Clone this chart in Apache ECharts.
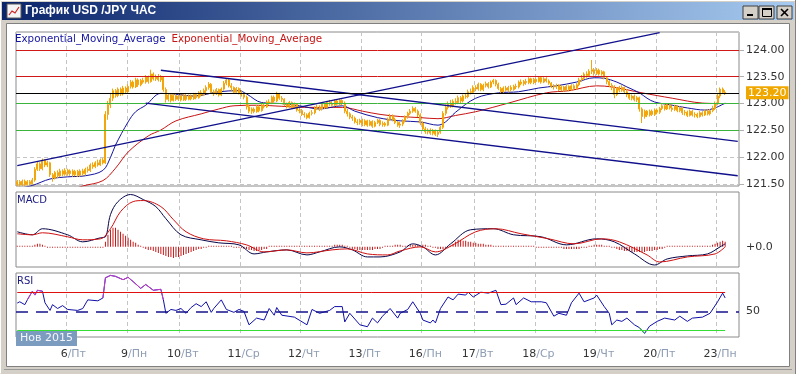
<!DOCTYPE html>
<html><head><meta charset="utf-8">
<script src="https://cdn.jsdelivr.net/npm/echarts@6/dist/echarts.min.js"></script>
<style>html,body{margin:0;padding:0;background:#d4d0c8;overflow:hidden}#c{width:796px;height:374px}</style>
</head><body><div id="c"></div>
<script>
// ---------- time axis (hourly slots) ----------
const days = [5, 6, 9, 10, 11, 12, 13, 16, 17, 18, 19, 20, 23];
const dayNames = ['Чт', 'Пт', 'Пн', 'Вт', 'Ср', 'Чт', 'Пт', 'Пн', 'Вт', 'Ср', 'Чт', 'Пт', 'Пн'];
const slotsPerDay = [20, 24, 21, 24, 24, 24, 24, 21, 24, 24, 24, 24, 9];
const firstHour = [4, 0, 3, 0, 0, 0, 0, 3, 0, 0, 0, 0, 3];
const monthLabel = 'Нов 2015';
const chartTitle = 'График USD /JPY ЧАС';
const emaLabel = 'Exponential_Moving_Average';

// ---------- price (hourly) ----------
const firstOpen = 121.50;
const closes = [
121.55,121.49,121.56,121.50,121.55,121.51,121.58,121.78,121.88,121.79,121.95,121.86,121.90,121.68,121.62,121.72,121.66,121.75,121.69,121.76,
121.70,121.75,121.68,121.74,121.67,121.75,121.70,121.78,121.76,121.86,121.83,121.90,121.86,121.95,121.90,122.80,122.98,123.10,123.24,123.15,123.27,123.18,123.29,123.22,
123.32,123.40,123.31,123.44,123.35,123.43,123.40,123.50,123.41,123.55,123.46,123.50,123.44,123.49,123.26,123.08,123.16,123.06,123.15,123.08,123.14,
123.07,123.15,123.08,123.14,123.09,123.17,123.11,123.20,123.16,123.24,123.30,123.36,123.22,123.18,123.26,123.16,123.27,123.38,123.44,123.33,123.30,123.21,123.28,123.20,
123.17,123.12,122.94,122.86,122.90,122.85,122.94,122.87,122.97,122.94,123.03,123.01,123.12,123.05,123.18,123.10,123.08,122.98,122.95,123.02,122.93,122.99,122.88,122.87,
122.80,122.79,122.74,122.82,122.83,122.92,122.93,122.90,122.99,122.93,123.02,123.00,122.97,123.05,122.99,123.06,123.01,122.86,122.81,122.75,122.73,122.66,122.65,122.69,
122.61,122.68,122.60,122.67,122.58,122.65,122.69,122.61,122.63,122.60,122.71,122.77,122.70,122.65,122.60,122.62,122.68,122.75,122.82,122.86,122.91,122.86,122.79,122.64,
122.53,122.48,122.51,122.45,122.50,122.43,122.47,122.56,122.82,122.93,123.00,122.96,123.04,123.02,123.11,123.05,123.14,123.13,123.22,123.21,123.30,
123.27,123.36,123.26,123.34,123.37,123.31,123.40,123.43,123.36,123.28,123.22,123.29,123.25,123.30,123.26,123.32,123.31,123.40,123.37,123.41,123.39,123.46,123.39,123.45,
123.41,123.48,123.40,123.46,123.42,123.38,123.32,123.31,123.34,123.26,123.31,123.25,123.32,123.26,123.33,123.28,123.35,123.44,123.47,123.55,123.52,123.60,123.63,123.56,
123.62,123.55,123.59,123.48,123.41,123.34,123.31,123.17,123.28,123.25,123.30,123.22,123.17,123.10,123.14,123.07,123.11,122.90,122.76,122.86,122.79,122.86,122.80,122.88,
122.84,122.91,122.96,122.90,122.98,122.92,122.89,122.95,122.87,122.92,122.83,122.84,122.78,122.86,122.79,122.80,122.76,122.83,122.79,122.86,122.81,122.87,122.91,123.00,
123.14,123.27,123.21,123.20];
const highs = [
121.58,121.58,121.59,121.59,121.58,121.58,121.62,121.82,121.93,121.91,121.98,121.97,121.94,121.92,121.71,121.75,121.76,121.79,121.78,121.80,
121.79,121.78,121.78,121.77,121.77,121.78,121.79,121.81,121.83,121.89,121.91,121.93,121.96,121.98,121.99,122.86,123.05,123.20,123.28,123.27,123.30,123.30,123.33,123.32,
123.36,123.44,123.43,123.48,123.47,123.46,123.48,123.53,123.52,123.63,123.58,123.54,123.55,123.53,123.51,123.30,123.19,123.18,123.19,123.18,123.17,
123.17,123.18,123.18,123.17,123.17,123.20,123.20,123.23,123.25,123.28,123.34,123.40,123.38,123.26,123.29,123.28,123.30,123.42,123.47,123.46,123.38,123.32,123.31,123.30,
123.25,123.20,123.15,122.98,122.93,122.93,122.97,122.97,123.00,123.02,123.06,123.08,123.15,123.15,123.22,123.20,123.14,123.10,123.02,123.05,123.04,123.02,123.01,122.92,
122.90,122.84,122.82,122.85,122.88,122.95,122.98,122.97,123.02,123.01,123.05,123.07,123.04,123.08,123.07,123.09,123.08,123.04,122.90,122.84,122.79,122.76,122.71,122.72,
122.72,122.71,122.70,122.70,122.69,122.68,122.72,122.71,122.67,122.66,122.74,122.81,122.80,122.74,122.68,122.66,122.71,122.78,122.85,122.90,122.95,122.94,122.89,122.82,
122.67,122.57,122.54,122.54,122.53,122.52,122.50,122.59,122.86,122.98,123.04,123.07,123.08,123.10,123.15,123.14,123.17,123.19,123.26,123.28,123.34,
123.34,123.39,123.38,123.37,123.41,123.40,123.43,123.46,123.45,123.39,123.31,123.32,123.33,123.33,123.34,123.35,123.37,123.43,123.45,123.44,123.46,123.49,123.48,123.48,
123.48,123.51,123.50,123.49,123.49,123.45,123.40,123.36,123.37,123.36,123.34,123.33,123.35,123.34,123.36,123.36,123.38,123.48,123.53,123.58,123.60,123.64,123.81,123.66,
123.66,123.65,123.62,123.61,123.51,123.44,123.38,123.34,123.31,123.33,123.34,123.32,123.27,123.20,123.17,123.17,123.14,123.13,122.93,122.89,122.88,122.89,122.89,122.91,
122.91,122.94,122.99,122.99,123.01,123.00,122.96,122.98,122.97,122.95,122.94,122.88,122.87,122.89,122.88,122.84,122.83,122.86,122.86,122.89,122.89,122.90,122.96,123.04,
123.18,123.30,123.30,123.25];
const lows = [
121.47,121.46,121.47,121.47,121.48,121.48,121.49,121.55,121.75,121.75,121.76,121.82,121.82,121.64,121.55,121.59,121.62,121.63,121.65,121.66,
121.66,121.66,121.64,121.65,121.64,121.64,121.66,121.67,121.72,121.73,121.79,121.80,121.83,121.84,121.87,121.88,122.70,122.92,123.05,123.11,123.12,123.14,123.15,123.18,
123.19,123.28,123.28,123.29,123.31,123.32,123.37,123.37,123.37,123.39,123.43,123.42,123.41,123.40,123.22,123.02,123.04,123.02,123.04,123.05,123.05,
123.04,123.05,123.05,123.06,123.06,123.07,123.08,123.09,123.13,123.14,123.20,123.26,123.19,123.14,123.16,123.13,123.14,123.24,123.34,123.30,123.24,123.18,123.19,123.17,
123.13,123.08,122.89,122.82,122.81,122.82,122.83,122.84,122.85,122.91,122.92,122.98,122.99,123.02,123.03,123.07,123.03,122.95,122.91,122.92,122.90,122.90,122.85,122.82,
122.77,122.74,122.71,122.72,122.78,122.80,122.88,122.86,122.87,122.90,122.91,122.96,122.94,122.95,122.96,122.97,122.97,122.82,122.76,122.71,122.68,122.63,122.60,122.61,
122.58,122.58,122.57,122.58,122.55,122.56,122.62,122.58,122.57,122.57,122.58,122.68,122.67,122.62,122.57,122.55,122.58,122.65,122.72,122.79,122.83,122.83,122.75,122.60,
122.49,122.44,122.43,122.42,122.41,122.40,122.38,122.44,122.53,122.78,122.89,122.92,122.93,122.98,122.99,123.01,123.02,123.09,123.10,123.17,123.18,
123.23,123.24,123.23,123.23,123.30,123.28,123.29,123.36,123.32,123.25,123.19,123.20,123.22,123.21,123.23,123.24,123.27,123.28,123.34,123.33,123.35,123.36,123.36,123.36,
123.38,123.39,123.37,123.38,123.39,123.35,123.29,123.26,123.27,123.23,123.23,123.22,123.23,123.23,123.24,123.25,123.26,123.32,123.40,123.44,123.48,123.49,123.55,123.52,
123.53,123.52,123.52,123.45,123.36,123.31,123.25,123.10,123.14,123.21,123.22,123.19,123.12,123.07,123.06,123.04,123.03,122.85,122.64,122.72,122.75,122.76,122.77,122.77,
122.80,122.81,122.88,122.87,122.88,122.89,122.85,122.86,122.84,122.84,122.79,122.78,122.75,122.76,122.76,122.74,122.73,122.74,122.76,122.77,122.78,122.78,122.84,122.88,
122.97,123.10,123.18,123.16];

// moving averages [slot, price]
const emaFast = [[0,121.42],[6,121.48],[13,121.60],[20,121.64],[27,121.66],[34,121.76],[37,122.00],[39,122.23],[44,122.66],[47,122.85],[51,122.97],[57,123.19],[62,123.18],[70,123.14],[80,123.22],[88,123.24],[91,123.18],[97,123.02],[105,123.00],[112,122.96],[120,122.90],[129,122.96],[134,122.86],[143,122.74],[152,122.68],[160,122.66],[167,122.60],[170,122.66],[174,122.84],[182,123.10],[191,123.20],[199,123.22],[207,123.29],[214,123.33],[222,123.40],[229,123.48],[233,123.47],[238,123.40],[242,123.31],[247,123.20],[250,123.10],[253,123.03],[260,122.97],[266,122.92],[273,122.88],[277,122.92],[281,123.01]];
const emaSlow = [[0,121.20],[20,121.38],[26,121.47],[34,121.57],[39,121.80],[44,122.10],[52,122.40],[57,122.51],[63,122.68],[73,122.81],[80,122.90],[86,122.96],[95,122.97],[105,122.95],[114,122.93],[122,122.93],[129,122.93],[137,122.86],[144,122.80],[152,122.76],[160,122.74],[167,122.72],[174,122.78],[182,122.85],[195,123.01],[210,123.20],[219,123.24],[230,123.33],[236,123.31],[248,123.20],[260,123.10],[272,123.01],[281,123.00]];

// levels and trend lines
const redLevels = [124.0, 123.5];
const greenLevels = [123.0, 122.5];
const lastPrice = 123.20;
const trendLines = [
  [[0, 121.85], [255, 124.32]],
  [[57, 123.62], [286, 122.30]],
  [[51, 123.01], [286, 121.66]]
];

// ---------- MACD ----------
const macdLine = [[0,0.15],[6,0.12],[10,0.18],[20,0.12],[26,0.05],[33,0.09],[35,0.10],[37,0.32],[40,0.45],[45,0.52],[50,0.47],[55,0.40],[59,0.28],[65,0.12],[73,0.07],[80,0.04],[88,0.02],[94,-0.07],[99,-0.05],[107,-0.03],[115,-0.08],[120,-0.05],[128,0.00],[133,-0.03],[139,-0.10],[144,-0.10],[152,-0.05],[157,0.03],[161,0.00],[166,-0.08],[172,0.03],[180,0.17],[189,0.18],[197,0.12],[208,0.10],[218,0.02],[230,0.08],[237,0.05],[245,-0.07],[253,-0.18],[258,-0.12],[266,-0.09],[274,-0.07],[279,0.00],[281,0.03]];
const macdSignal = [[0,0.13],[6,0.12],[10,0.14],[20,0.10],[26,0.07],[33,0.08],[37,0.18],[41,0.35],[46,0.45],[50,0.46],[57,0.40],[62,0.27],[67,0.15],[74,0.08],[83,0.06],[91,0.02],[98,-0.05],[107,-0.03],[115,-0.06],[125,-0.03],[131,-0.02],[139,-0.07],[147,-0.08],[152,-0.04],[160,0.00],[166,-0.05],[173,0.02],[182,0.15],[190,0.18],[200,0.13],[211,0.08],[221,0.03],[232,0.08],[239,0.05],[250,-0.08],[255,-0.15],[266,-0.10],[277,-0.07],[281,0.00]];
const macdHist = [
0.01,0.01,0.01,0.01,0.01,0.01,0.01,0.02,0.03,0.03,0.02,0.01,
-0.01,-0.01,-0.01,-0.01,-0.01,-0.01,-0.01,-0.01,-0.01,-0.01,-0.01,-0.01,-0.01,-0.01,-0.01,-0.01,-0.01,-0.01,-0.01,-0.01,-0.01,-0.01,-0.01,
0.05,0.12,0.17,0.19,0.19,0.17,0.15,0.13,0.11,0.09,0.07,0.05,0.04,0.02,0.01,
-0.01,-0.02,-0.03,-0.03,-0.04,-0.05,-0.06,-0.07,-0.08,-0.09,-0.10,-0.10,-0.11,-0.10,-0.10,-0.09,-0.08,-0.07,-0.06,-0.05,-0.04,-0.03,-0.02,-0.02,
-0.01,-0.01,0.01,0.01,0.01,0.01,0.01,0.01,0.01,0.01,0.01,0.01,-0.01,-0.01,-0.01,-0.01,-0.02,-0.02,
-0.03,-0.03,-0.04,-0.04,-0.03,-0.03,-0.02,-0.02,
0.01,0.01,0.01,0.01,0.01,0.01,0.01,0.01,0.01,0.01,0.01,0.01,0.01,0.01,0.01,0.01,0.01,0.01,0.01,0.01,0.01,0.01,0.01,0.01,0.01,0.01,0.02,0.02,0.02,0.02,0.01,0.01,-0.01,
-0.02,-0.02,-0.03,-0.03,-0.03,-0.03,-0.03,-0.03,-0.03,-0.02,-0.02,-0.02,-0.01,
0.01,0.01,0.01,0.01,0.02,0.02,0.02,0.01,0.01,0.01,0.02,0.02,0.02,0.02,0.01,
0.02,0.02,0.01,0.01,-0.01,-0.01,
-0.02,-0.02,-0.02,-0.01,-0.01,0.01,0.03,
0.05,0.07,0.07,0.06,0.06,0.05,0.05,0.04,0.04,0.03,0.03,0.03,0.02,0.02,0.02,
0.01,0.01,0.01,0.01,0.01,0.01,0.01,0.01,0.01,0.01,0.01,0.01,0.01,0.01,0.01,0.01,0.01,
-0.01,-0.01,-0.01,-0.01,-0.01,-0.01,-0.01,-0.01,-0.01,-0.01,
-0.01,-0.02,-0.02,-0.02,-0.02,-0.02,-0.02,-0.02,-0.01,-0.01,-0.01,
0.01,0.01,0.02,0.02,0.02,0.02,0.01,0.01,0.01,-0.01,
-0.01,-0.02,-0.03,-0.03,-0.04,-0.04,-0.04,-0.05,-0.05,-0.05,-0.05,-0.05,-0.05,-0.04,-0.04,-0.04,-0.03,-0.03,-0.02,-0.02,-0.01,
0.01,0.01,0.01,0.01,0.01,0.01,0.01,0.01,0.01,0.01,0.01,0.01,0.01,0.01,0.01,0.01,0.01,0.01,
0.02,0.03,0.04,0.05,0.06,0.05];

// ---------- RSI ----------
const rsiPoints = [[0,58.7],[1,60],[3,57],[4,62],[6,71],[7,67],[8,72],[10,71],[11,59],[13,51],[14,57],[16,53],[18,56],[20,52],[24,51],[26,53],[28,62],[32,61],[34,64],[35,85],[37,87.5],[39,86.5],[42,83],[44,85.5],[46,81],[49,74],[51,78],[54,72],[57,73],[58,62],[59,48],[61,52],[63,51],[65,53],[67,48],[69,54],[71,58],[73,55],[75,60],[77,49],[78,53],[81,62],[83,52],[86,49],[88,52],[90,50],[92,36],[95,43],[98,41],[100,53],[102,46],[103,54],[105,46],[110,44],[115,36],[117,52],[120,48],[124,51],[126,55],[129,55],[130,39],[132,48],[136,36],[139,34],[141,43],[143,38],[145,45],[148,53],[151,43],[152,48],[155,52],[157,60],[160,48],[161,41],[164,38],[165,41],[166,38],[168,53],[171,65],[173,62],[175,68],[178,67],[179,70],[181,65],[184,70],[187,69],[190,72],[192,57],[194,57.5],[197,64],[198,57],[201,64],[204,60],[208,60],[210,59],[213,45],[215,48],[218,46],[220,59],[223,69],[225,60],[229,64],[230,67],[233,55],[235,48],[236,36],[238,41],[240,39.6],[242,43],[245,36],[247,33],[249,27],[251,34.6],[254,39.6],[257,43],[261,41],[263,45],[266,39.6],[268,43],[272,44],[275,48],[278,60],[280,69],[281,64]];
const rsiHotRanges = [[4, 10], [34, 58]];
const rsiLowRanges = [[247, 249]];
const rsiUpper = 70, rsiMid = 50, rsiLower = 30;

// ---------- build ----------
const categories = [];
const dayStarts = new Set();
days.forEach((d, k) => {
  for (let h = 0; h < slotsPerDay[k]; h++) {
    if (h === 0 && k > 0) dayStarts.add(categories.length);
    categories.push(d + '|' + dayNames[k] + '|' + (firstHour[k] + h));
  }
});
const candles = closes.map((c, i) => [i === 0 ? firstOpen : closes[i - 1], c, lows[i], highs[i]]);
const inRanges = (s, ranges) => ranges.some(r => s >= r[0] && s <= r[1]);
const rsiHot = rsiPoints.map(p => inRanges(p[0], rsiHotRanges) ? p : [p[0], '-']);
const rsiLow = rsiPoints.map(p => inRanges(p[0], rsiLowRanges) ? p : [p[0], '-']);
const lastSlot = closes.length - 1;

const FONT = 'DejaVu Sans';
const isDayStart = (i) => dayStarts.has(i);
const gridBase = { show: true, borderColor: '#8a8a8a', borderWidth: 1, backgroundColor: '#ffffff' };
function catAxis(gridIndex, extra) {
  return Object.assign({
    type: 'category', gridIndex, data: categories, boundaryGap: true, position: 'bottom',
    axisLine: { show: false }, axisTick: { show: false }, axisLabel: { show: false },
    splitLine: { show: true, interval: isDayStart, lineStyle: { color: '#c4c4c4', width: 1, type: [4, 3] } }
  }, extra || {});
}
const C = {
  candle: '#f2a60c', blue: '#1414a0', red: '#c81414', trend: '#10108c',
  lvlRed: '#d01818', lvlGreen: '#3cb43c', macd: '#06064a', sig: '#d01010', hist: '#c41a1a',
  rsi: '#1010a8', hot: '#c83cc8', low: '#22cc22'
};
const ml = (extra) => Object.assign({ silent: true, symbol: 'none', animation: false, precision: 2, label: { show: false } }, extra);

const mainLines = [];
redLevels.forEach(v => mainLines.push({ yAxis: v, lineStyle: { color: C.lvlRed, width: 1, type: 'solid' } }));
greenLevels.forEach(v => mainLines.push({ yAxis: v, lineStyle: { color: C.lvlGreen, width: 1, type: 'solid' } }));
trendLines.forEach(t => mainLines.push([
  { coord: t[0], lineStyle: { color: C.trend, width: 1.3, type: 'solid' } },
  { coord: t[1] }
]));
mainLines.push({
  yAxis: lastPrice, lineStyle: { color: '#000', width: 1.2, type: 'solid' },
  label: { show: true, position: 'end', distance: 7, formatter: lastPrice.toFixed(2),
    backgroundColor: '#f0a800', color: '#fff', fontFamily: FONT, fontSize: 11, padding: [2, 2, 0, 2] }
});

const dayLabel = (part, prefix) => (v, i) => dayStarts.has(i) ? prefix + v.split('|')[part] : '';

const option = {
  animation: false,
  title: {
    text: '{b|' + emaLabel + '}  {r|' + emaLabel + '}',
    left: 15, top: 34, padding: 0,
    textStyle: { fontWeight: 'normal', fontSize: 10.3, rich: {
      b: { color: C.blue, fontSize: 10.3, fontFamily: FONT, fontWeight: 'normal' },
      r: { color: C.red, fontSize: 10.3, fontFamily: FONT, fontWeight: 'normal' } } }
  },
  grid: [
    Object.assign({ left: 16, top: 32, width: 723, height: 154 }, gridBase),
    Object.assign({ left: 16, top: 192, width: 723, height: 75 }, gridBase),
    Object.assign({ left: 16, top: 273, width: 723, height: 64 }, gridBase)
  ],
  xAxis: [
    catAxis(0),
    catAxis(1),
    catAxis(2, {
      axisLabel: { show: true, interval: isDayStart, align: 'right', margin: 12, color: '#333',
        fontFamily: FONT, fontSize: 11, formatter: dayLabel(0, '') }
    }),
    catAxis(2, {
      splitLine: { show: false },
      axisLabel: { show: true, interval: isDayStart, align: 'left', margin: 12, color: '#8d9db3',
        fontFamily: FONT, fontSize: 11, formatter: dayLabel(1, '/') }
    })
  ],
  yAxis: [
    { type: 'value', gridIndex: 0, position: 'right', min: 121.47, max: 124.33, splitNumber: 5,
      axisLine: { show: false }, axisTick: { show: true, length: 5, lineStyle: { color: '#b0b0b0' } },
      axisLabel: { margin: 7, color: '#333', fontFamily: FONT, fontSize: 11, showMinLabel: false, showMaxLabel: false,
        formatter: (v) => v.toFixed(2) },
      splitLine: { show: true, lineStyle: { color: '#c4c4c4', type: [4, 3] } } },
    { type: 'value', gridIndex: 1, position: 'right', min: -0.2, max: 0.545, splitNumber: 5,
      axisLine: { show: false }, axisTick: { show: false }, splitLine: { show: false },
      axisLabel: { margin: 7, color: '#333', fontFamily: FONT, fontSize: 11, showMinLabel: false, showMaxLabel: false,
        formatter: (v) => Math.abs(v) < 1e-9 ? '+0.0' : '' } },
    { type: 'value', gridIndex: 2, position: 'right', min: 23.3, max: 90, splitNumber: 7,
      axisLine: { show: false }, axisTick: { show: false }, splitLine: { show: false },
      axisLabel: { margin: 7, color: '#333', fontFamily: FONT, fontSize: 11, showMinLabel: false, showMaxLabel: false,
        formatter: (v) => Math.abs(v - rsiMid) < 1e-9 ? String(rsiMid) : '' } }
  ],
  series: [
    { name: 'levels', type: 'line', xAxisIndex: 0, yAxisIndex: 0, data: [], z: 2,
      markLine: ml({ data: mainLines }) },
    { name: 'emaSlow', type: 'line', xAxisIndex: 0, yAxisIndex: 0, data: emaSlow, smooth: 0.35,
      symbol: 'none', lineStyle: { color: C.red, width: 1 }, z: 3 },
    { name: 'emaFast', type: 'line', xAxisIndex: 0, yAxisIndex: 0, data: emaFast, smooth: 0.35,
      symbol: 'none', lineStyle: { color: C.blue, width: 1 }, z: 3 },
    { name: 'price', type: 'candlestick', xAxisIndex: 0, yAxisIndex: 0, data: candles, barWidth: 1.5, z: 4,
      itemStyle: { color: C.candle, color0: C.candle, borderColor: C.candle, borderColor0: C.candle, borderWidth: 1 } },

    { name: 'hist', type: 'bar', xAxisIndex: 1, yAxisIndex: 1, data: macdHist, barWidth: 1, z: 2,
      itemStyle: { color: C.hist } },
    { name: 'macd', type: 'line', xAxisIndex: 1, yAxisIndex: 1, data: macdLine, smooth: 0.35, symbol: 'none',
      lineStyle: { color: C.macd, width: 1 }, z: 3 },
    { name: 'signal', type: 'line', xAxisIndex: 1, yAxisIndex: 1, data: macdSignal, smooth: 0.35, symbol: 'none',
      lineStyle: { color: C.sig, width: 1 }, z: 3 },

    { name: 'rsiLevels', type: 'line', xAxisIndex: 2, yAxisIndex: 2, data: [], z: 2,
      markLine: ml({ data: [
        [{ coord: [0, rsiUpper], lineStyle: { color: '#e01010', width: 1, type: 'solid' } }, { coord: [lastSlot, rsiUpper] }],
        [{ coord: [0, rsiLower], lineStyle: { color: '#33dd33', width: 1.2, type: 'solid' } }, { coord: [lastSlot, rsiLower] }],
        { yAxis: rsiMid, lineStyle: { color: '#14148c', width: 1.5, type: [12, 8] } }
      ] }) },
    { name: 'rsi', type: 'line', xAxisIndex: 2, yAxisIndex: 2, data: rsiPoints, symbol: 'none',
      lineStyle: { color: C.rsi, width: 1 }, z: 3 },
    { name: 'rsiHot', type: 'line', xAxisIndex: 2, yAxisIndex: 2, data: rsiHot, symbol: 'none', connectNulls: false,
      lineStyle: { color: C.hot, width: 1 }, z: 4 },
    { name: 'rsiLow', type: 'line', xAxisIndex: 2, yAxisIndex: 2, data: rsiLow, symbol: 'none', connectNulls: false,
      lineStyle: { color: C.low, width: 1 }, z: 4 }
  ],
  graphic: [
    { type: 'rect', z: -20, shape: { x: 0, y: 0, width: 796, height: 374 }, style: { fill: '#d4d0c8' } },
    { type: 'line', z: -19, shape: { x1: 0.5, y1: 0.5, x2: 795.5, y2: 0.5 }, style: { stroke: '#ffffff' } },
    { type: 'line', z: -19, shape: { x1: 0.5, y1: 0.5, x2: 0.5, y2: 373.5 }, style: { stroke: '#ffffff' } },
    { type: 'line', z: -19, shape: { x1: 795.5, y1: 0, x2: 795.5, y2: 374 }, style: { stroke: '#808080' } },
    { type: 'rect', z: -18, shape: { x: 2, y: 2, width: 792, height: 18 },
      style: { fill: new echarts.graphic.LinearGradient(0, 0, 1, 0, [{ offset: 0, color: '#0a246a' }, { offset: 1, color: '#a6caf0' }]) } },
    { type: 'rect', z: -17, shape: { x: 7, y: 4, width: 14, height: 14 }, style: { fill: '#f4f4f4', stroke: '#5a5a5a', lineWidth: 1 } },
    { type: 'polyline', z: -16, shape: { points: [[9, 15], [12, 11], [15, 13], [19, 7]] }, style: { stroke: '#d02020', lineWidth: 1.2, fill: null } },
    { type: 'text', z: -16, x: 25, y: 11, style: { text: chartTitle, fill: '#ffffff', font: 'bold 12px "Liberation Sans"', verticalAlign: 'middle' } },
    { type: 'rect', z: -16, shape: { x: 743, y: 6, width: 15, height: 13 }, style: { fill: '#d4d0c8', stroke: '#404040', lineWidth: 1 } },
    { type: 'rect', z: -15, shape: { x: 747, y: 14, width: 6, height: 2 }, style: { fill: '#000' } },
    { type: 'rect', z: -16, shape: { x: 759, y: 6, width: 15, height: 13 }, style: { fill: '#d4d0c8', stroke: '#404040', lineWidth: 1 } },
    { type: 'rect', z: -15, shape: { x: 762.5, y: 8.5, width: 9, height: 8 }, style: { fill: null, stroke: '#000', lineWidth: 1 } },
    { type: 'rect', z: -15, shape: { x: 762, y: 8, width: 10, height: 2 }, style: { fill: '#000' } },
    { type: 'rect', z: -16, shape: { x: 777, y: 6, width: 15, height: 13 }, style: { fill: '#d4d0c8', stroke: '#404040', lineWidth: 1 } },
    { type: 'line', z: -15, shape: { x1: 781, y1: 9, x2: 788, y2: 16 }, style: { stroke: '#000', lineWidth: 1.6 } },
    { type: 'line', z: -15, shape: { x1: 788, y1: 9, x2: 781, y2: 16 }, style: { stroke: '#000', lineWidth: 1.6 } },
    { type: 'rect', z: -14, shape: { x: 6.5, y: 23.5, width: 783, height: 343 }, style: { fill: '#ffffff', stroke: '#808080', lineWidth: 1 } },
    { type: 'line', z: -14, shape: { x1: 4, y1: 369.5, x2: 792, y2: 369.5 }, style: { stroke: '#9a9a9a' } },
    { type: 'text', z: 20, x: 17, y: 200, style: { text: 'MACD', fill: '#1a1a80', font: '10px "DejaVu Sans"', verticalAlign: 'middle' } },
    { type: 'text', z: 20, x: 17, y: 281, style: { text: 'RSI', fill: '#1a1a80', font: '10px "DejaVu Sans"', verticalAlign: 'middle' } },
    { type: 'rect', z: 30, shape: { x: 16, y: 331, width: 61, height: 15 }, style: { fill: '#7c9cbf' } },
    { type: 'text', z: 31, x: 46.5, y: 338.5, style: { text: monthLabel, fill: '#f4f6fa', font: '11px "DejaVu Sans"', align: 'center', verticalAlign: 'middle' } }
  ]
};

const chart = echarts.init(document.getElementById('c'), null, { renderer: 'canvas' });
chart.setOption(option);
</script>
</body></html>
